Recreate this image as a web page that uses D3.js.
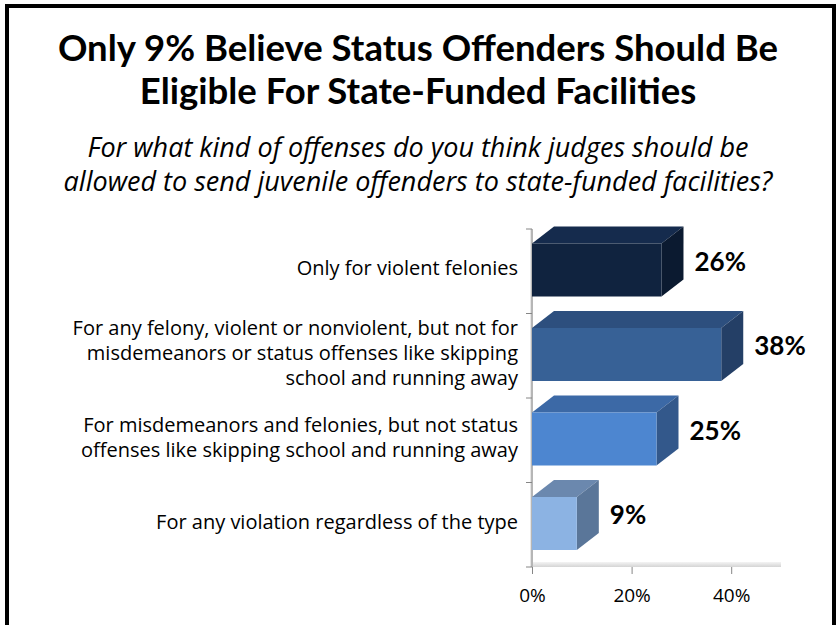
<!DOCTYPE html>
<html>
<head>
<meta charset="utf-8">
<script src="https://cdn.jsdelivr.net/npm/d3@7"></script>
<style>
  body { margin: 0; background: #fff; }
  svg { display: block; font-family: "Open Sans", Lato, sans-serif; }
</style>
</head>
<body>
<div id="chart"></div>
<script>
// datos
const categories = [
  ["Only for violent felonies"],
  ["For any felony, violent or nonviolent, but not for", "misdemeanors or status offenses like skipping", "school and running away"],
  ["For misdemeanors and felonies, but not status", "offenses like skipping school and running away"],
  ["For any violation regardless of the type"]
];
const values = [0.26, 0.38, 0.25, 0.09];
const tickValues = [0, 0.2, 0.4];
const titleLines = ["Only 9% Believe Status Offenders Should Be", "Eligible For State-Funded Facilities"];
const subtitleLines = ["For what kind of offenses do you think judges should be", "allowed to send juvenile offenders to state-funded facilities?"];

// colores: frente, arriba, lado
const faceColors = [
  { front: "#10233f", top: "#152b4d", side: "#0b1a30" },
  { front: "#376196", top: "#2d4f7e", side: "#243f66" },
  { front: "#4d86d0", top: "#3c69a6", side: "#33588b" },
  { front: "#8cb3e3", top: "#6b88ae", side: "#5a7699" }
];

const W = 837, H = 625;
const svg = d3.select("#chart").append("svg")
  .attr("width", W).attr("height", H);

// marco
svg.append("path")
  .attr("d", "M7,625 L7,6 L834,6 L834,625")
  .attr("fill", "none").attr("stroke", "#000").attr("stroke-width", 4);

// titulo
svg.append("text")
  .attr("text-anchor", "middle")
  .attr("font-family", "Lato, sans-serif")
  .attr("font-weight", "bold").attr("font-size", 36.5)
  .selectAll("tspan").data(titleLines).join("tspan")
  .attr("x", 418).attr("y", (d, i) => 61 + i * 43)
  .text(d => d);

svg.append("text")
  .attr("text-anchor", "middle")
  .attr("font-style", "italic").attr("font-size", 27)
  .selectAll("tspan").data(subtitleLines).join("tspan")
  .attr("x", 418).attr("y", (d, i) => 157 + i * 34)
  .text(d => d);

// escalas
const x = d3.scaleLinear().domain([0, 0.5]).range([532, 781]);
const y = d3.scaleBand().domain(d3.range(values.length)).range([229, 567]);

const dx = 22, dy = 17, barH = 53, barOff = 14.5;

// piso
const defs = svg.append("defs");
const fg = defs.append("linearGradient").attr("id", "floor").attr("x1", 0).attr("x2", 0).attr("y1", 0).attr("y2", 1);
fg.append("stop").attr("offset", 0).attr("stop-color", "#f4f4f4");
fg.append("stop").attr("offset", 1).attr("stop-color", "#d4d4d4");
svg.append("rect")
  .attr("x", x(0)).attr("y", 562).attr("width", x(0.5) - x(0)).attr("height", 5)
  .attr("fill", "url(#floor)");
svg.append("rect")
  .attr("x", x(0) - 2).attr("y", y.range()[0]).attr("width", 3).attr("height", 567 - y.range()[0])
  .attr("fill", "#e6e6e6");

// ejes
svg.append("g")
  .attr("transform", `translate(0,567)`)
  .call(d3.axisBottom(x).tickValues(tickValues).tickFormat(d3.format(".0%")).tickSize(7).tickPadding(15))
  .call(g => g.select(".domain").remove())
  .call(g => g.selectAll("line").attr("stroke", "#868686"))
  .call(g => g.selectAll("text").attr("font-size", 19).attr("fill", "#000")
    .attr("font-family", "'Open Sans', sans-serif"));

const yTicks = d3.range(values.length + 1).map(i => 229 + i * y.step());
svg.append("line")
  .attr("x1", x(0)).attr("x2", x(0)).attr("y1", yTicks[0]).attr("y2", 567)
  .attr("stroke", "#868686");
svg.selectAll(".ytick").data(yTicks).join("line")
  .attr("class", "ytick")
  .attr("x1", x(0) - 6).attr("x2", x(0)).attr("y1", d => d).attr("y2", d => d)
  .attr("stroke", "#868686");

// barras 3D
const bars = svg.selectAll(".bar").data(values).join("g").attr("class", "bar");
bars.each(function (v, i) {
  const g = d3.select(this);
  const x0 = x(0), x1 = x(v);
  const yf = y(i) + barOff;
  const c = faceColors[i];
  g.append("polygon")
    .attr("points", [[x0, yf], [x0 + dx, yf - dy], [x1 + dx, yf - dy], [x1, yf]].join(" "))
    .attr("fill", c.top);
  g.append("polygon")
    .attr("points", [[x1, yf], [x1 + dx, yf - dy], [x1 + dx, yf + barH - dy], [x1, yf + barH]].join(" "))
    .attr("fill", c.side);
  g.append("rect")
    .attr("x", x0).attr("y", yf).attr("width", x1 - x0).attr("height", barH)
    .attr("fill", c.front);
  g.append("text")
    .attr("x", x1 + dx + 11).attr("y", yf + (barH - dy) / 2)
    .attr("dy", "0.35em")
    .attr("font-family", "Lato, sans-serif")
    .attr("font-weight", "bold").attr("font-size", 26)
    .text(d3.format(".0%")(v));
});

// etiquetas de categorias
const lineH = 25;
svg.selectAll(".cat").data(categories).join("text")
  .attr("class", "cat")
  .attr("text-anchor", "end")
  .attr("font-size", 20)
  .each(function (lines, i) {
    const cy = y(i) + y.bandwidth() / 2 - 3;
    d3.select(this).selectAll("tspan").data(lines).join("tspan")
      .attr("x", 518)
      .attr("y", (d, j) => cy + (j - (lines.length - 1) / 2) * lineH)
      .attr("dy", "0.35em")
      .text(d => d);
  });
</script>
</body>
</html>
